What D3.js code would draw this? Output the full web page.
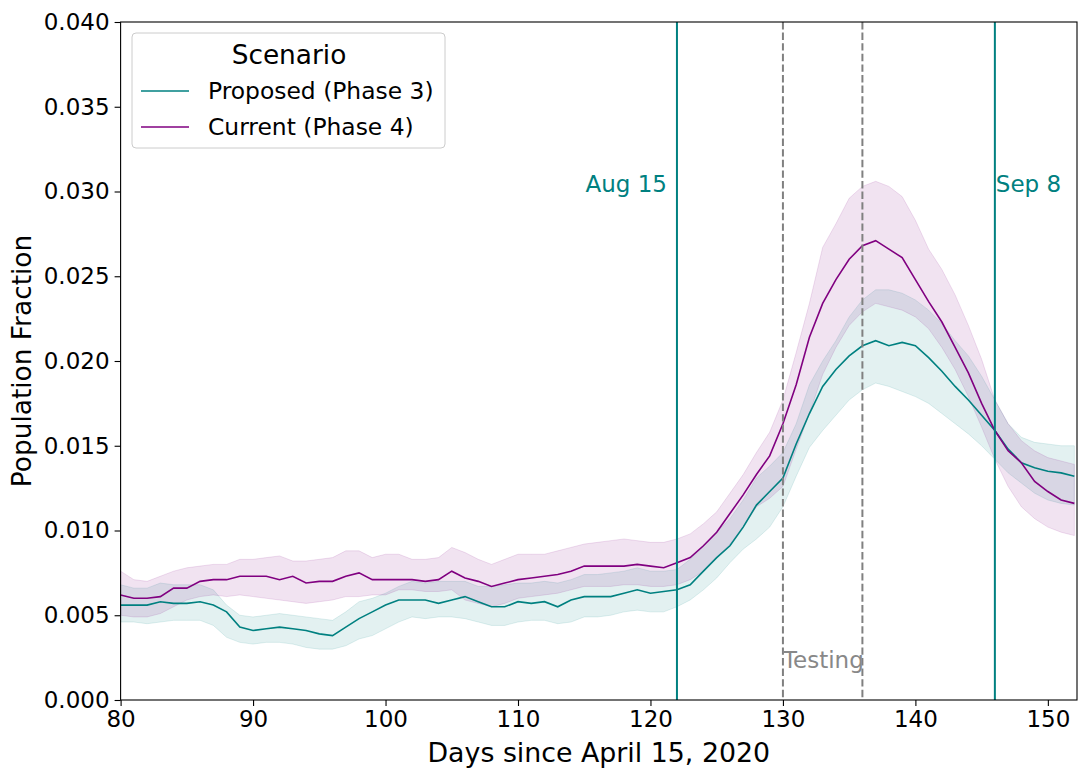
<!DOCTYPE html>
<html>
<head>
<meta charset="utf-8">
<script src="https://cdn.jsdelivr.net/npm/d3@7"></script>
<style>
  body { margin: 0; background: #fff; }
  svg { font-family: "DejaVu Sans", sans-serif; }
</style>
</head>
<body>
<svg width="1078" height="768"></svg>
<script>
// days since April 15, 2020 (one sample per day)
var days = [80,81,82,83,84,85,86,87,88,89,90,91,92,93,94,95,96,97,98,99,
  100,101,102,103,104,105,106,107,108,109,110,111,112,113,114,115,116,117,118,119,
  120,121,122,123,124,125,126,127,128,129,130,131,132,133,134,135,136,137,138,139,
  140,141,142,143,144,145,146,147,148,149,150,151,152];

// Proposed (Phase 3) - mean and band
var proposedMean = [0.0056,0.0056,0.0056,0.0058,0.0057,0.0057,0.0058,0.0056,0.0052,0.0043,
  0.0041,0.0042,0.0043,0.0042,0.0041,0.0039,0.0038,0.0043,0.0048,0.0052,
  0.0056,0.0059,0.0059,0.0059,0.0057,0.0059,0.0061,0.0058,0.0055,0.0055,
  0.0058,0.0057,0.0058,0.0055,0.0059,0.0061,0.0061,0.0061,0.0063,0.0065,
  0.0063,0.0064,0.0065,0.0068,0.0076,0.0084,0.0091,0.0102,0.0115,0.0123,
  0.0131,0.0151,0.0169,0.0185,0.0195,0.0203,0.0209,0.0212,0.0209,0.0211,
  0.0209,0.0202,0.0194,0.0185,0.0177,0.0168,0.0159,0.0148,0.0140,0.0137,
  0.0135,0.0134,0.0132];
var proposedHigh = [0.0068,0.0066,0.0066,0.0069,0.0068,0.0068,0.0068,0.0065,0.0056,0.0050,
  0.0049,0.0050,0.0051,0.0050,0.0049,0.0048,0.0047,0.0052,0.0058,0.0060,
  0.0063,0.0067,0.0070,0.0069,0.0070,0.0070,0.0070,0.0067,0.0067,0.0068,
  0.0069,0.0069,0.0070,0.0069,0.0071,0.0074,0.0074,0.0075,0.0076,0.0078,
  0.0076,0.0076,0.0077,0.0083,0.0091,0.0099,0.0107,0.0118,0.0131,0.0138,
  0.0146,0.0163,0.0186,0.0200,0.0212,0.0226,0.0236,0.0242,0.0242,0.0240,
  0.0236,0.0230,0.0222,0.0212,0.0203,0.0191,0.0177,0.0163,0.0155,0.0152,
  0.0151,0.0150,0.0150];
var proposedLow = [0.0046,0.0046,0.0045,0.0046,0.0047,0.0047,0.0047,0.0044,0.0037,0.0034,
  0.0033,0.0034,0.0034,0.0033,0.0031,0.0030,0.0030,0.0032,0.0036,0.0038,
  0.0042,0.0046,0.0049,0.0048,0.0049,0.0049,0.0048,0.0046,0.0044,0.0044,
  0.0046,0.0047,0.0047,0.0045,0.0046,0.0049,0.0049,0.0050,0.0052,0.0053,
  0.0052,0.0052,0.0055,0.0059,0.0065,0.0072,0.0081,0.0089,0.0095,0.0102,
  0.0114,0.0132,0.0149,0.0159,0.0168,0.0177,0.0183,0.0187,0.0185,0.0182,
  0.0179,0.0175,0.0169,0.0163,0.0157,0.0150,0.0142,0.0134,0.0128,0.0122,
  0.0118,0.0116,0.0115];

// Current (Phase 4) - mean and band
var currentMean = [0.0062,0.0060,0.0060,0.0061,0.0066,0.0066,0.0070,0.0071,0.0071,0.0073,
  0.0073,0.0073,0.0071,0.0073,0.0069,0.0070,0.0070,0.0073,0.0075,0.0071,
  0.0071,0.0071,0.0071,0.0070,0.0071,0.0076,0.0072,0.0070,0.0067,0.0069,
  0.0071,0.0072,0.0073,0.0074,0.0076,0.0079,0.0079,0.0079,0.0079,0.0080,
  0.0079,0.0078,0.0081,0.0084,0.0091,0.0099,0.0110,0.0121,0.0133,0.0144,
  0.0163,0.0186,0.0214,0.0234,0.0248,0.0260,0.0268,0.0271,0.0266,0.0261,
  0.0248,0.0235,0.0223,0.0208,0.0193,0.0175,0.0159,0.0147,0.0140,0.0129,
  0.0123,0.0118,0.0116];
var currentHigh = [0.0076,0.0071,0.0070,0.0073,0.0076,0.0078,0.0079,0.0080,0.0080,0.0083,
  0.0083,0.0084,0.0085,0.0082,0.0082,0.0083,0.0084,0.0088,0.0088,0.0084,
  0.0086,0.0086,0.0083,0.0083,0.0084,0.0090,0.0087,0.0083,0.0080,0.0083,
  0.0086,0.0086,0.0086,0.0088,0.0090,0.0092,0.0093,0.0094,0.0095,0.0094,
  0.0093,0.0093,0.0095,0.0098,0.0104,0.0111,0.0122,0.0133,0.0146,0.0158,
  0.0177,0.0205,0.0234,0.0267,0.0281,0.0296,0.0303,0.0306,0.0303,0.0297,
  0.0283,0.0266,0.0254,0.0239,0.0221,0.0201,0.0177,0.0163,0.0153,0.0147,
  0.0143,0.0141,0.0139];
var currentLow = [0.0050,0.0049,0.0049,0.0051,0.0055,0.0059,0.0061,0.0062,0.0061,0.0062,
  0.0061,0.0060,0.0059,0.0058,0.0057,0.0058,0.0059,0.0061,0.0061,0.0062,
  0.0062,0.0065,0.0065,0.0064,0.0064,0.0065,0.0059,0.0057,0.0055,0.0057,
  0.0060,0.0061,0.0062,0.0063,0.0065,0.0067,0.0067,0.0067,0.0068,0.0068,
  0.0067,0.0067,0.0068,0.0071,0.0076,0.0084,0.0092,0.0102,0.0114,0.0119,
  0.0126,0.0148,0.0169,0.0192,0.0208,0.0221,0.0229,0.0234,0.0232,0.0230,
  0.0226,0.0219,0.0208,0.0195,0.0179,0.0161,0.0142,0.0126,0.0114,0.0107,
  0.0102,0.0099,0.0097];

var xTicks = [80, 90, 100, 110, 120, 130, 140, 150];
var yTicks = [0, 0.005, 0.010, 0.015, 0.020, 0.025, 0.030, 0.035, 0.040];

// date markers and the testing window
var dateMarks = [{day: 122, label: "Aug 15", side: "left"}, {day: 146, label: "Sep 8", side: "right"}];
var testingDays = [130, 136];

var scenarios = [
  {name: "Proposed (Phase 3)", color: "teal", mean: proposedMean, high: proposedHigh, low: proposedLow},
  {name: "Current (Phase 4)", color: "purple", mean: currentMean, high: currentHigh, low: currentLow}
];

var margin = {left: 120.6, top: 22, right: 1, bottom: 68};
var width = 1078 - margin.left - margin.right;
var height = 768 - margin.top - margin.bottom;

var svg = d3.select("svg");
var plot = svg.append("g")
  .attr("transform", "translate(" + margin.left + "," + margin.top + ")");

var xScale = d3.scaleLinear().domain([80, 152.2]).range([0, width]);
var yScale = d3.scaleLinear().domain([0, 0.04]).range([height, 0]);

// shaded bands first
scenarios.forEach(function(s) {
  var area = d3.area()
    .x(function(d, i) { return xScale(days[i]); })
    .y0(function(d, i) { return yScale(s.low[i]); })
    .y1(function(d, i) { return yScale(s.high[i]); });
  plot.append("path")
    .datum(days)
    .attr("d", area)
    .attr("fill", s.color)
    .attr("fill-opacity", 0.11)
    .attr("stroke", s.color)
    .attr("stroke-opacity", 0.12)
    .attr("stroke-width", 1);
});

// mean lines
scenarios.forEach(function(s) {
  var line = d3.line()
    .x(function(d, i) { return xScale(days[i]); })
    .y(function(d, i) { return yScale(s.mean[i]); });
  plot.append("path")
    .datum(days)
    .attr("d", line)
    .attr("fill", "none")
    .attr("stroke", s.color)
    .attr("stroke-width", 1.6);
});

// vertical markers
dateMarks.forEach(function(m) {
  plot.append("line")
    .attr("x1", xScale(m.day)).attr("x2", xScale(m.day))
    .attr("y1", 0).attr("y2", height)
    .attr("stroke", "teal")
    .attr("stroke-width", 2);
  plot.append("text")
    .attr("x", m.side == "left" ? xScale(m.day) - 10 : xScale(m.day) + 1)
    .attr("y", yScale(0.030))
    .attr("text-anchor", m.side == "left" ? "end" : "start")
    .attr("fill", "teal")
    .style("font-size", "23px")
    .text(m.label);
});

testingDays.forEach(function(d) {
  plot.append("line")
    .attr("x1", xScale(d)).attr("x2", xScale(d))
    .attr("y1", 0).attr("y2", height)
    .attr("stroke", "gray")
    .attr("stroke-width", 2)
    .attr("stroke-dasharray", "7.4,3.2");
});
plot.append("text")
  .attr("x", xScale(testingDays[0]))
  .attr("y", yScale(0.0019))
  .attr("fill", "#888")
  .style("font-size", "23px")
  .text("Testing");

// axes
var xAxis = plot.append("g")
  .attr("transform", "translate(0," + height + ")")
  .call(d3.axisBottom(xScale).tickValues(xTicks).tickSize(6).tickPadding(5).tickFormat(d3.format("d")));
var yAxis = plot.append("g")
  .call(d3.axisLeft(yScale).tickValues(yTicks).tickSize(6).tickPadding(5).tickFormat(d3.format(".3f")));

[xAxis, yAxis].forEach(function(ax) {
  ax.select(".domain").remove();
  ax.selectAll("line").attr("stroke", "black").attr("stroke-width", 1.1);
  ax.selectAll("text").style("font-size", "23px").style("font-family", "DejaVu Sans").attr("fill", "black");
});

// frame
plot.append("rect")
  .attr("width", width).attr("height", height)
  .attr("fill", "none")
  .attr("stroke", "black")
  .attr("stroke-width", 1.1);

svg.append("text")
  .attr("x", margin.left + width / 2)
  .attr("y", 762)
  .attr("text-anchor", "middle")
  .style("font-size", "26.8px")
  .text("Days since April 15, 2020");

svg.append("text")
  .attr("transform", "translate(31," + (margin.top + height / 2) + ") rotate(-90)")
  .attr("text-anchor", "middle")
  .style("font-size", "26.4px")
  .text("Population Fraction");

// legend
var legend = svg.append("g").attr("transform", "translate(132,33)");
legend.append("rect")
  .attr("width", 313).attr("height", 115)
  .attr("rx", 4)
  .attr("fill", "white").attr("fill-opacity", 0.8)
  .attr("stroke", "#cccccc");
legend.append("text")
  .attr("x", 157).attr("y", 31)
  .attr("text-anchor", "middle")
  .style("font-size", "26.4px")
  .text("Scenario");
var entries = legend.selectAll(".entry")
  .data(scenarios)
  .enter()
  .append("g")
  .attr("class", "entry")
  .attr("transform", function(d, i) { return "translate(0," + (58 + i * 36) + ")"; });
entries.append("line")
  .attr("x1", 9).attr("x2", 57)
  .attr("stroke", function(d) { return d.color; })
  .attr("stroke-width", 1.4);
entries.append("text")
  .attr("x", 76).attr("y", 8)
  .style("font-size", "23.4px")
  .text(function(d) { return d.name; });
</script>
</body>
</html>
